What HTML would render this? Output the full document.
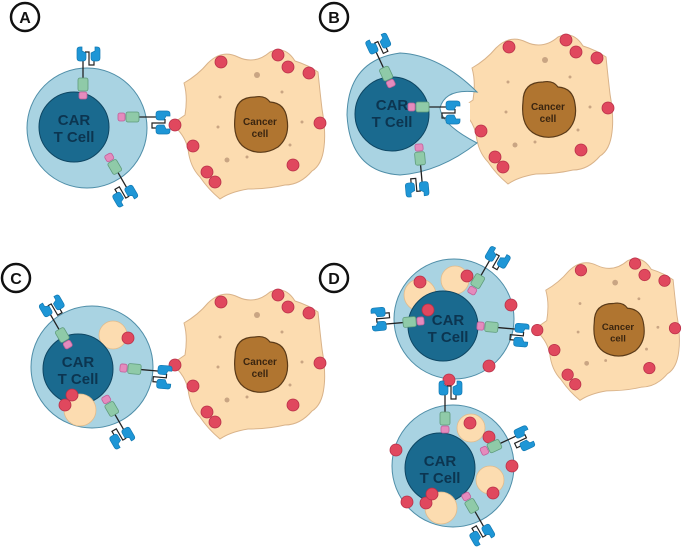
<!DOCTYPE html>
<html><head><meta charset="utf-8"><style>
html,body{margin:0;padding:0;background:#fff}
svg{display:block}
text{font-family:"Liberation Sans",sans-serif;font-weight:bold}
</style></head><body>
<svg width="685" height="550" viewBox="0 0 685 550" xmlns="http://www.w3.org/2000/svg">
<defs>
<g id="rec">
  <line x1="0" y1="-18" x2="0" y2="-36" stroke="#222" stroke-width="1.3"/>
  <path d="M2,-44 H6 V-31 H11 V-35" fill="none" stroke="#222" stroke-width="1.2"/>
  <rect x="-4" y="-4" width="8" height="7" rx="2" fill="#e48bbd" stroke="#c0609a" stroke-width="0.8"/>
  <rect x="-5" y="-18" width="10" height="13" rx="2" fill="#8fcaa8" stroke="#5e9b7b" stroke-width="0.8"/>
  <path d="M-6,-46 Q-6,-49 -3,-49 L-1,-49 L-1,-45 L3,-43 L3,-38 Q3,-35 0,-35 L-3,-35 Q-6,-35 -6,-38 Z" fill="#1e96d6" stroke="#137ab3" stroke-width="0.7"/>
  <path d="M17,-46 Q17,-49 14,-49 L12,-49 L12,-45 L8,-43 L8,-38 Q8,-35 11,-35 L14,-35 Q17,-35 17,-38 Z" fill="#1e96d6" stroke="#137ab3" stroke-width="0.7"/>
</g>
<g id="cancer">
  <path d="M-88,-3 L-75,-12 Q-72,-30 -76,-44 Q-62,-52 -52,-64 Q-38,-78 -22,-70 Q-5,-62 10,-75 Q25,-82 35,-66 Q48,-62 58,-55 Q60,-35 62,-18 Q66,5 64,20 Q62,38 52,44 Q40,58 25,58 Q8,62 -12,62 Q-30,65 -40,72 Q-52,62 -60,50 Q-70,40 -72,22 Q-75,8 -88,-3 Z" fill="#fcdcb0" stroke="#d9b38a" stroke-width="1"/>
  <circle cx="-40" cy="-30" r="1.5" fill="#c9a583"/><circle cx="-15" cy="-22" r="3" fill="#c9a583"/>
  <circle cx="-3" cy="-52" r="3" fill="#c9a583"/><circle cx="22" cy="-35" r="1.5" fill="#c9a583"/>
  <circle cx="42" cy="-5" r="1.5" fill="#c9a583"/><circle cx="-42" cy="0" r="1.5" fill="#c9a583"/>
  <circle cx="-33" cy="33" r="2.5" fill="#c9a583"/><circle cx="-13" cy="30" r="1.5" fill="#c9a583"/>
  <circle cx="30" cy="18" r="1.5" fill="#c9a583"/>
  <path d="M-25,-10 Q-25,-30 -5,-30 Q5,-32 10,-25 Q25,-24 27,-8 Q30,10 18,20 Q5,28 -8,24 Q-28,18 -25,-10 Z" fill="#b07530" stroke="#5a3a18" stroke-width="1.2"/>
  <text x="0" y="-2" font-size="10" text-anchor="middle" fill="#3a2510">Cancer</text>
  <text x="0" y="10" font-size="10" text-anchor="middle" fill="#3a2510">cell</text>
</g>
<g id="dots">
  <circle cx="-39" cy="-65" r="6"/><circle cx="18" cy="-72" r="6"/><circle cx="28" cy="-60" r="6"/>
  <circle cx="49" cy="-54" r="6"/><circle cx="60" cy="-4" r="6"/><circle cx="33" cy="38" r="6"/>
  <circle cx="-53" cy="45" r="6"/><circle cx="-45" cy="55" r="6"/><circle cx="-67" cy="19" r="6"/>
  <circle cx="-85" cy="-2" r="6"/>
</g>
</defs>

<g fill="#fff" stroke="#111" stroke-width="2.5">
<circle cx="25" cy="17" r="14"/><circle cx="334" cy="17" r="14"/>
<circle cx="16" cy="278" r="14"/><circle cx="334" cy="278" r="14"/>
</g>
<g font-size="16" text-anchor="middle" fill="#111">
<text x="25" y="23">A</text><text x="334" y="23">B</text><text x="16" y="284">C</text><text x="334" y="284">D</text>
</g>

<!-- Panel A -->
<use href="#cancer" transform="translate(260,127)"/>
<g fill="#e0485e" stroke="#b83048" stroke-width="0.8"><use href="#dots" transform="translate(260,127)"/></g>
<circle cx="87" cy="128" r="60" fill="#a9d3e2" stroke="#4f8ea8" stroke-width="1"/>
<circle cx="74" cy="127" r="35" fill="#1a6a8f" stroke="#0e4663" stroke-width="1"/>
<text x="74" y="125" font-size="15" text-anchor="middle" fill="#0c3550">CAR</text>
<text x="74" y="142" font-size="15" text-anchor="middle" fill="#0c3550">T Cell</text>
<use href="#rec" transform="translate(83,96)"/>
<use href="#rec" transform="translate(121,117) rotate(90)"/>
<use href="#rec" transform="translate(109,157) rotate(150)"/>

<!-- Panel B -->
<use href="#cancer" transform="translate(548,112)"/>
<g fill="#e0485e" stroke="#b83048" stroke-width="0.8"><use href="#dots" transform="translate(548,112)"/></g>
<path d="M477,92 Q445,88 440,108 Q442,125 477,143 Q440,172 400,175 Q350,172 347,115 Q348,60 400,53 Q440,55 477,92 Z" fill="#a9d3e2" stroke="#4f8ea8" stroke-width="1"/>
<path d="M470,103 Q448,98 444,112 Q446,126 470,125 Z" fill="#fff"/>
<circle cx="392" cy="114" r="37" fill="#1a6a8f" stroke="#0e4663" stroke-width="1"/>
<text x="392" y="110" font-size="15" text-anchor="middle" fill="#0c3550">CAR</text>
<text x="392" y="127" font-size="15" text-anchor="middle" fill="#0c3550">T Cell</text>
<use href="#rec" transform="translate(391,84) rotate(-25)"/>
<use href="#rec" transform="translate(411,107) rotate(90)"/>
<use href="#rec" transform="translate(419,147) rotate(175)"/>

<!-- Panel C -->
<use href="#cancer" transform="translate(260,367)"/>
<g fill="#e0485e" stroke="#b83048" stroke-width="0.8"><use href="#dots" transform="translate(260,367)"/></g>
<circle cx="92" cy="367" r="61" fill="#a9d3e2" stroke="#4f8ea8" stroke-width="1"/>
<circle cx="113" cy="335" r="14" fill="#fcdcb0" stroke="#e0bb8c" stroke-width="0.8"/>
<circle cx="78" cy="369" r="35" fill="#1a6a8f" stroke="#0e4663" stroke-width="1"/>
<circle cx="80" cy="410" r="16" fill="#fcdcb0" stroke="#e0bb8c" stroke-width="0.8"/>
<g fill="#e0485e" stroke="#b83048" stroke-width="0.8">
<circle cx="128" cy="338" r="6"/><circle cx="72" cy="395" r="6"/><circle cx="65" cy="405" r="6"/></g>
<text x="78" y="367" font-size="15" text-anchor="middle" fill="#0c3550">CAR</text>
<text x="78" y="384" font-size="15" text-anchor="middle" fill="#0c3550">T Cell</text>
<use href="#rec" transform="translate(68,345) rotate(-30)"/>
<use href="#rec" transform="translate(123,368) rotate(95)"/>
<use href="#rec" transform="translate(106,399) rotate(150)"/>

<!-- Panel D -->
<use href="#cancer" transform="translate(618,332) scale(0.95)"/>
<g fill="#e0485e" stroke="#b83048" stroke-width="0.8"><use href="#dots" transform="translate(618,332) scale(0.95)"/></g>
<circle cx="454" cy="319" r="60" fill="#a9d3e2" stroke="#4f8ea8" stroke-width="1"/>
<circle cx="420" cy="295" r="16" fill="#fcdcb0" stroke="#e0bb8c" stroke-width="0.8"/>
<circle cx="455" cy="280" r="14" fill="#fcdcb0" stroke="#e0bb8c" stroke-width="0.8"/>
<circle cx="443" cy="326" r="35" fill="#1a6a8f" stroke="#0e4663" stroke-width="1"/>
<text x="448" y="325" font-size="15" text-anchor="middle" fill="#0c3550">CAR</text>
<text x="448" y="342" font-size="15" text-anchor="middle" fill="#0c3550">T Cell</text>
<circle cx="453" cy="466" r="61" fill="#a9d3e2" stroke="#4f8ea8" stroke-width="1"/>
<circle cx="471" cy="428" r="14" fill="#fcdcb0" stroke="#e0bb8c" stroke-width="0.8"/>
<circle cx="490" cy="480" r="14" fill="#fcdcb0" stroke="#e0bb8c" stroke-width="0.8"/>
<circle cx="440" cy="468" r="35" fill="#1a6a8f" stroke="#0e4663" stroke-width="1"/>
<circle cx="441" cy="508" r="16" fill="#fcdcb0" stroke="#e0bb8c" stroke-width="0.8"/>
<text x="440" y="466" font-size="15" text-anchor="middle" fill="#0c3550">CAR</text>
<text x="440" y="483" font-size="15" text-anchor="middle" fill="#0c3550">T Cell</text>
<g fill="#e0485e" stroke="#b83048" stroke-width="0.8">
<circle cx="420" cy="282" r="6"/><circle cx="467" cy="276" r="6"/><circle cx="428" cy="310" r="6"/>
<circle cx="511" cy="305" r="6"/><circle cx="489" cy="366" r="6"/><circle cx="449" cy="380" r="6"/>
<circle cx="470" cy="423" r="6"/><circle cx="489" cy="437" r="6"/><circle cx="512" cy="466" r="6"/>
<circle cx="493" cy="493" r="6"/><circle cx="396" cy="450" r="6"/><circle cx="407" cy="502" r="6"/>
<circle cx="426" cy="503" r="6"/><circle cx="432" cy="494" r="6"/></g>
<use href="#rec" transform="translate(472,291) rotate(30)"/>
<use href="#rec" transform="translate(421,321) rotate(-95)"/>
<use href="#rec" transform="translate(480,326) rotate(95)"/>
<use href="#rec" transform="translate(445,430)"/>
<use href="#rec" transform="translate(484,451) rotate(65)"/>
<use href="#rec" transform="translate(466,496) rotate(150)"/>
</svg>
</body></html>
